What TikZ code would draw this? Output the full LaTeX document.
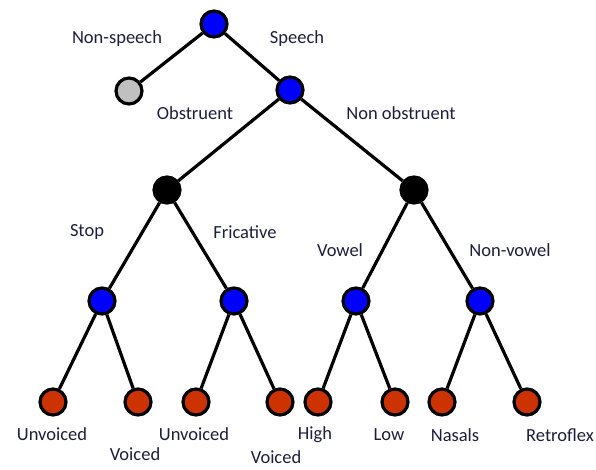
\documentclass[tikz,border=0pt]{standalone}
\usepackage{fontspec}
\setmainfont{Carlito}
\definecolor{txt}{RGB}{30,30,60}
\definecolor{leafred}{RGB}{204,51,0}
\definecolor{nodeblue}{RGB}{0,0,255}
\definecolor{nodegrey}{RGB}{192,192,192}
\tikzset{
  dot/.style={circle,draw=black,line width=3.2pt,minimum size=26pt,inner sep=0pt},
  bluedot/.style={dot,fill=nodeblue},
  blackdot/.style={dot,fill=black},
  greydot/.style={dot,fill=nodegrey},
  reddot/.style={dot,fill=leafred},
  edge/.style={line width=3.2pt,black},
  lbl/.style={text=txt,font=\fontsize{18.5}{20}\selectfont,inner sep=0pt}
}
\begin{document}
\begin{tikzpicture}[x=1pt,y=-1pt]
\useasboundingbox (0,0) rectangle (596,469);
% nodes
\node[bluedot] (root) at (214,24) {};
\node[greydot] (ns) at (129,91) {};
\node[bluedot] (sp) at (290,90) {};
\node[blackdot] (obs) at (167,190) {};
\node[blackdot] (nob) at (414,190) {};
\node[bluedot] (stop) at (102,301) {};
\node[bluedot] (fric) at (234,301) {};
\node[bluedot] (vow) at (356,301) {};
\node[bluedot] (nvow) at (480,301) {};
\node[reddot] (l1) at (53,402) {};
\node[reddot] (l2) at (138,402) {};
\node[reddot] (l3) at (196,402) {};
\node[reddot] (l4) at (280,402) {};
\node[reddot] (l5) at (318,402) {};
\node[reddot] (l6) at (395,402) {};
\node[reddot] (l7) at (442,402) {};
\node[reddot] (l8) at (527,402) {};
% edges
\draw[edge] (root) -- (ns);
\draw[edge] (root) -- (sp);
\draw[edge] (sp) -- (obs);
\draw[edge] (sp) -- (nob);
\draw[edge] (obs) -- (stop);
\draw[edge] (obs) -- (fric);
\draw[edge] (nob) -- (vow);
\draw[edge] (nob) -- (nvow);
\draw[edge] (stop) -- (l1);
\draw[edge] (stop) -- (l2);
\draw[edge] (fric) -- (l3);
\draw[edge] (fric) -- (l4);
\draw[edge] (vow) -- (l5);
\draw[edge] (vow) -- (l6);
\draw[edge] (nvow) -- (l7);
\draw[edge] (nvow) -- (l8);
% labels
\node[lbl] (tns) at (117,39) {Non-speech};
\node[lbl] (tsp) at (297,39) {Speech};
\node[lbl] (tob) at (195,113) {Obstruent};
\node[lbl] (tno) at (401,113) {Non obstruent};
\node[lbl] (tst) at (87,232) {Stop};
\node[lbl] (tfr) at (245,232) {Fricative};
\node[lbl] (tvo) at (340,250) {Vowel};
\node[lbl] (tnv) at (510,250) {Non-vowel};
\node[lbl] (t1) at (52,434) {Unvoiced};
\node[lbl] (t2) at (135,454) {Voiced};
\node[lbl] (t3) at (194,434) {Unvoiced};
\node[lbl] (t4) at (276,457) {Voiced};
\node[lbl] (t5) at (315,435) {High};
\node[lbl] (t6) at (389,435) {Low};
\node[lbl] (t7) at (455,435) {Nasals};
\node[lbl] (t8) at (560,435) {Retroflex};
\end{tikzpicture}
\end{document}
